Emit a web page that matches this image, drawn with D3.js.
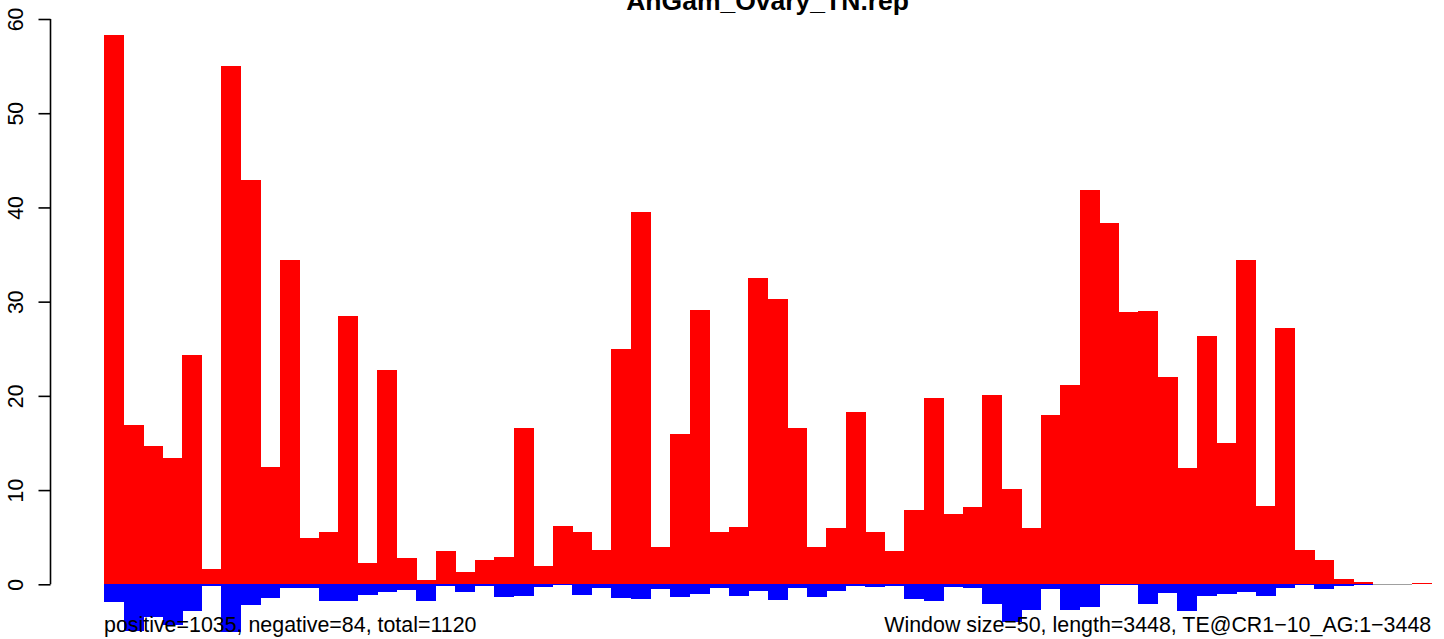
<!DOCTYPE html>
<html>
<head>
<meta charset="utf-8">
<script src="https://cdn.jsdelivr.net/npm/d3@7"></script>
<style>
  html, body { margin: 0; padding: 0; background: #fff; }
  svg { display: block; font-family: "Liberation Sans", Arial, Helvetica, sans-serif; }
</style>
</head>
<body>
<svg id="chart" width="1444" height="639"></svg>
<script>
// ---- data ----
const title = "AnGam_Ovary_TN.rep";
const windowIndex = d3.range(1, 69); // 68 windows of 50 bp
const positiveValues = [58.35,16.9,14.7,13.4,24.3,1.6,55.05,42.95,12.4,34.45,4.9,5.6,28.5,2.25,22.7,2.8,0.45,3.55,1.3,2.6,
  2.95,16.6,1.9,6.2,5.5,3.65,25.0,39.55,4.0,16.0,29.15,5.6,6.1,32.5,30.3,16.6,4.0,6.0,18.3,5.5,
  3.55,7.9,19.8,7.5,8.2,20.1,10.1,6.0,18.0,21.2,41.9,38.4,28.9,29.0,22.0,12.3,26.4,14.95,34.45,8.3,
  27.2,3.65,2.6,0.6,0.2,0,0,0.1];
const negativeValues = [-1.9,-5.0,-3.5,-4.3,-2.85,-0.18,-5.07,-2.23,-1.41,-0.42,-0.35,-1.77,-1.75,-1.1,-0.77,-0.62,-1.8,-0.15,-0.83,-0.2,
  -1.4,-1.2,-0.25,-0.1,-1.13,-0.42,-1.49,-1.6,-0.53,-1.35,-1.03,-0.42,-1.24,-0.71,-1.67,-0.35,-1.35,-0.74,-0.18,-0.28,
  -0.15,-1.6,-1.8,-0.28,-0.42,-2.1,-4.0,-2.7,-0.53,-2.77,-2.4,-0.1,-0.1,-2.05,-0.88,-2.8,-1.24,-1.06,-0.85,-1.24,
  -0.42,-0.05,-0.53,-0.2,-0.05,0,0,0];
const yTicks = [0, 10, 20, 30, 40, 50, 60];
const leftNote = "positive=1035, negative=84, total=1120";
const rightNote = "Window size=50, length=3448, TE@CR1\u221210_AG:1\u22123448";

// ---- layout ----
const svg = d3.select("#chart");
const n = windowIndex.length;
const x = d3.scaleLinear().domain([-0.04 * n, n * 1.04]).range([50.9, 1484.3]);
const y = d3.scaleLinear().domain([0, 60]).range([584.3, 19]);
const bw = x(1) - x(0);

const data = windowIndex.map((w, i) => ({ i, pos: positiveValues[i], neg: negativeValues[i] }));

const bars = svg.append("g").attr("shape-rendering", "crispEdges");

// red (positive) bars
bars.append("g").selectAll("rect").data(data.filter(d => d.pos > 0)).join("rect")
  .attr("x", d => x(d.i))
  .attr("width", bw + 0.5)
  .attr("y", d => y(d.pos))
  .attr("height", d => Math.max(1, y(0) - y(d.pos)))
  .attr("fill", "#ff0000");

// blue (negative) bars
bars.append("g").selectAll("rect").data(data.filter(d => d.neg < 0)).join("rect")
  .attr("x", d => x(d.i))
  .attr("width", bw + 0.5)
  .attr("y", y(0))
  .attr("height", d => Math.max(1, y(d.neg) - y(0)))
  .attr("fill", "#0000ff");

// empty windows drawn as a grey baseline
bars.append("g").selectAll("rect").data(data.filter(d => d.pos === 0 && d.neg === 0)).join("rect")
  .attr("x", d => x(d.i))
  .attr("width", bw + 0.5)
  .attr("y", y(0) - 0.7)
  .attr("height", 1.4)
  .attr("fill", "#a0a0a0");

// y axis
const yAxis = d3.axisLeft(y).tickValues(yTicks).tickSize(12).tickFormat(d3.format("d"));
const ga = svg.append("g").attr("transform", "translate(50.5,0)").call(yAxis);
ga.selectAll(".tick line").attr("stroke", "#000").attr("stroke-width", 1.6);
ga.selectAll(".domain").attr("stroke", "#000").attr("stroke-width", 1.6)
  .attr("d", `M0,${y(0)}V${y(60)}`);
ga.selectAll(".tick text")
  .attr("x", null).attr("dy", null)
  .attr("transform", "translate(-28,0) rotate(-90)")
  .attr("text-anchor", "middle")
  .attr("fill", "#000")
  .style("font-size", "21.3px")
  .style("font-family", "'Liberation Sans', Arial, sans-serif");

// title (centred on plot region)
svg.append("text")
  .attr("x", (x.range()[0] + x.range()[1]) / 2)
  .attr("y", 10)
  .attr("text-anchor", "middle")
  .style("font-size", "26.5px")
  .style("font-weight", "bold")
  .text(title);

// bottom notes
svg.append("text")
  .attr("x", x(0))
  .attr("y", 632)
  .attr("text-anchor", "start")
  .style("font-size", "21.4px")
  .text(leftNote);
svg.append("text")
  .attr("x", x(n))
  .attr("y", 632)
  .attr("text-anchor", "end")
  .style("font-size", "21.4px")
  .text(rightNote);
</script>
</body>
</html>
